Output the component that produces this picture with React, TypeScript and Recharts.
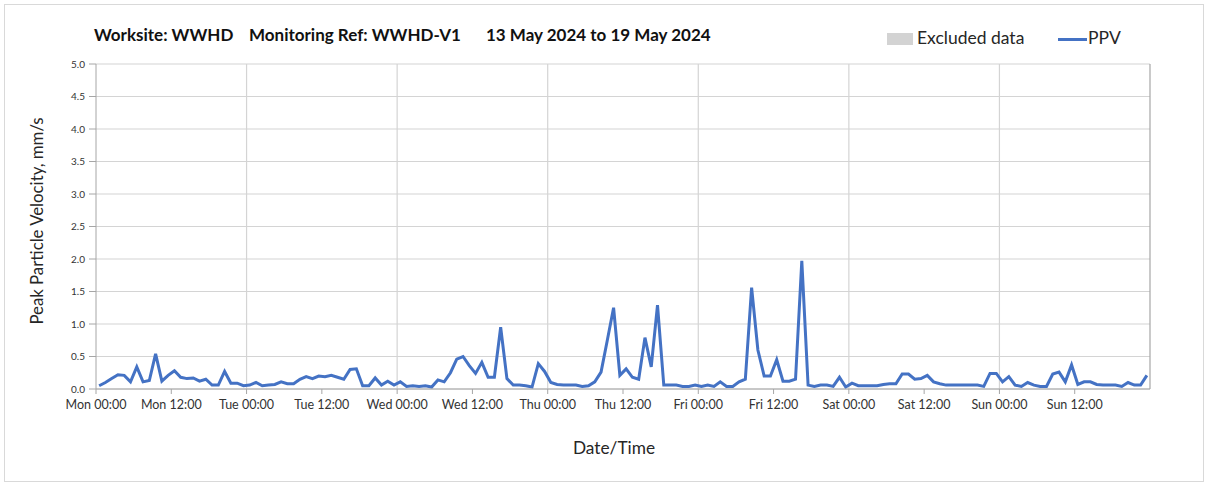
import React from "react";
import { LineChart, Line, XAxis, YAxis, CartesianGrid, ReferenceLine } from "recharts";

// Hourly PPV readings, Mon 13 May 2024 → Sun 19 May 2024 (mm/s), one per hour
const PPV_VALUES: number[] = [
  0.05, 0.10, 0.16, 0.22, 0.21, 0.11, 0.34, 0.11, 0.13, 0.54, 0.12, 0.21,
  0.28, 0.18, 0.16, 0.17, 0.12, 0.15, 0.06, 0.06, 0.27, 0.09, 0.09, 0.05,
  0.06, 0.10, 0.05, 0.06, 0.07, 0.11, 0.08, 0.08, 0.15, 0.19, 0.16, 0.20,
  0.19, 0.21, 0.18, 0.15, 0.30, 0.31, 0.05, 0.05, 0.17, 0.06, 0.12, 0.06,
  0.11, 0.04, 0.05, 0.04, 0.05, 0.03, 0.14, 0.11, 0.25, 0.46, 0.50, 0.36,
  0.24, 0.41, 0.18, 0.18, 0.95, 0.16, 0.06, 0.06, 0.05, 0.03, 0.39, 0.27,
  0.10, 0.07, 0.06, 0.06, 0.06, 0.04, 0.05, 0.11, 0.26, 0.75, 1.25, 0.21,
  0.31, 0.18, 0.15, 0.79, 0.34, 1.29, 0.06, 0.06, 0.06, 0.04, 0.04, 0.06,
  0.04, 0.06, 0.04, 0.11, 0.04, 0.04, 0.11, 0.15, 1.56, 0.60, 0.20, 0.20,
  0.45, 0.12, 0.12, 0.15, 1.97, 0.06, 0.04, 0.06, 0.06, 0.04, 0.18, 0.03,
  0.09, 0.05, 0.05, 0.05, 0.05, 0.07, 0.08, 0.08, 0.23, 0.23, 0.15, 0.16,
  0.21, 0.11, 0.08, 0.06, 0.06, 0.06, 0.06, 0.06, 0.06, 0.04, 0.24, 0.24,
  0.11, 0.19, 0.06, 0.04, 0.10, 0.06, 0.04, 0.04, 0.23, 0.26, 0.11, 0.37,
  0.07, 0.11, 0.11, 0.07, 0.06, 0.06, 0.06, 0.04, 0.10, 0.06, 0.06, 0.21,
];
// readings are stamped at half past each hour
const READING_OFFSET_HOURS = 0.5;

const X_TICKS: number[] = [0, 12, 24, 36, 48, 60, 72, 84, 96, 108, 120, 132, 144, 156];
const X_TICK_LABELS: string[] = [
  "Mon 00:00", "Mon 12:00", "Tue 00:00", "Tue 12:00", "Wed 00:00", "Wed 12:00",
  "Thu 00:00", "Thu 12:00", "Fri 00:00", "Fri 12:00", "Sat 00:00", "Sat 12:00",
  "Sun 00:00", "Sun 12:00",
];
const DAY_LINES: number[] = [24, 48, 72, 96, 120, 144, 168];
const Y_TICKS: number[] = [0, 0.5, 1, 1.5, 2, 2.5, 3, 3.5, 4, 4.5, 5];

const TITLE_PARTS: string[] = ["Worksite: WWHD", "Monitoring Ref: WWHD-V1", "13 May 2024 to 19 May 2024"];

const FONT = "Lato, 'Open Sans', sans-serif";
const BLUE = "#4472C4";

export default function App() {
  const data = PPV_VALUES.map((v, i) => ({ t: i + READING_OFFSET_HOURS, ppv: v }));
  const labelFor = (v: number) => {
    const idx = X_TICKS.indexOf(v);
    return idx >= 0 ? X_TICK_LABELS[idx] : "";
  };
  const titleStyle: React.CSSProperties = { position: "absolute", top: 24, fontSize: 17, fontWeight: 700, color: "#111", whiteSpace: "nowrap" };
  return (
    <div style={{ position: "absolute", left: 0, top: 0, width: 1208, height: 483, background: "#fff", fontFamily: FONT }}>
      <div style={{ position: "absolute", left: 4, top: 4, width: 1198, height: 476, border: "1px solid #d9d9d9" }} />
      <div style={{ position: "absolute", left: 0, top: 0 }}>
        <LineChart width={1208} height={483} data={data} margin={{ top: 64, right: 58, left: 0, bottom: 64 }}>
          <CartesianGrid vertical={false} stroke="#d4d4d4" strokeWidth={1.2} />
          {DAY_LINES.map((d) => (
            <ReferenceLine key={d} x={d} stroke={d === 168 ? "#a6a6a6" : "#d4d4d4"} strokeWidth={1.2} />
          ))}
          <XAxis
            dataKey="t"
            type="number"
            domain={[0, 168]}
            ticks={X_TICKS}
            tickFormatter={labelFor}
            height={30}
            tickSize={5}
            tickMargin={6}
            stroke="#a6a6a6"
            tick={{ fill: "#333", fontSize: 12.5, fontFamily: FONT }}
            interval={0}
          />
          <YAxis
            type="number"
            domain={[0, 5]}
            ticks={Y_TICKS}
            tickFormatter={(v: number) => v.toFixed(1)}
            width={96}
            tickSize={7}
            tickMargin={4}
            stroke="#a6a6a6"
            tick={{ fill: "#333", fontSize: 10, fontFamily: FONT }}
            interval={0}
          />
          <Line
            type="linear"
            dataKey="ppv"
            stroke={BLUE}
            strokeWidth={3}
            dot={false}
            isAnimationActive={false}
          />
        </LineChart>
      </div>
      <div style={{ ...titleStyle, left: 94 }}>{TITLE_PARTS[0]}</div>
      <div style={{ ...titleStyle, left: 249 }}>{TITLE_PARTS[1]}</div>
      <div style={{ ...titleStyle, left: 486 }}>{TITLE_PARTS[2]}</div>
      <div style={{ position: "absolute", left: 887, top: 33, width: 26, height: 12, background: "#d3d3d3" }} />
      <div style={{ position: "absolute", left: 917, top: 27, fontSize: 17.5, color: "#262626", whiteSpace: "nowrap" }}>Excluded data</div>
      <div style={{ position: "absolute", left: 1058, top: 38, width: 29, height: 3, background: BLUE }} />
      <div style={{ position: "absolute", left: 1088, top: 27, fontSize: 17.5, color: "#262626", whiteSpace: "nowrap" }}>PPV</div>
      <div style={{ position: "absolute", left: 36, top: 221, transform: "translate(-50%, -50%) rotate(-90deg)", fontSize: 16.8, color: "#262626", whiteSpace: "nowrap" }}>
        Peak Particle Velocity, mm/s
      </div>
      <div style={{ position: "absolute", left: 614, top: 447, transform: "translate(-50%, -50%)", fontSize: 17.3, color: "#262626", whiteSpace: "nowrap" }}>
        Date/Time
      </div>
    </div>
  );
}
